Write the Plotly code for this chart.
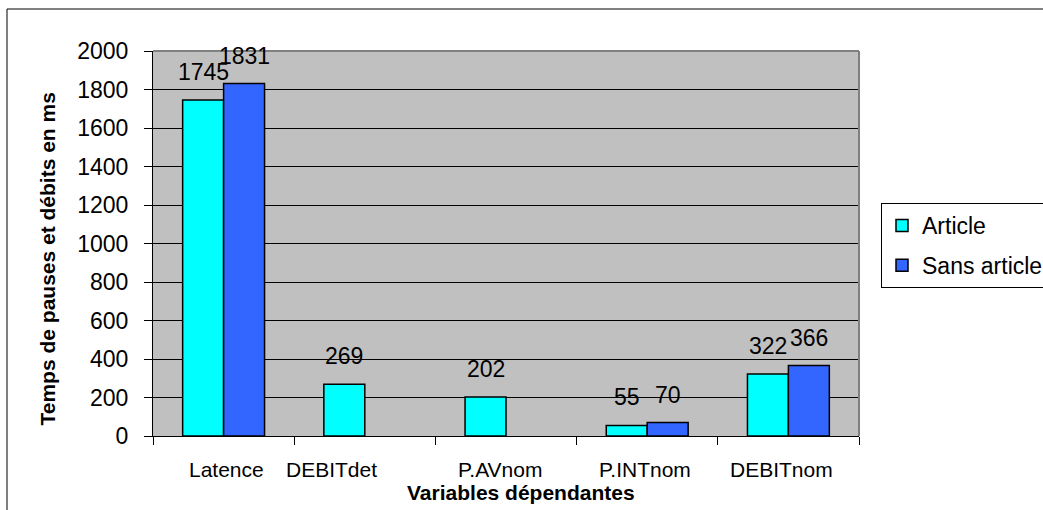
import plotly.graph_objects as go

categories = ["Latence", "DEBITdet", "P.AVnom", "P.INTnom", "DEBITnom"]
article = [1745, 269, 202, 55, 322]
sans_article = [1831, None, None, 70, 366]
series_names = ["Article", "Sans article"]
y_ticks = list(range(0, 2001, 200))

# style
colors = ["#00FFFF", "#3366FF"]
label_nudge_px = [3, -33, -6, -2, -7]   # Excel's uneven category-label placement
FONT = "Liberation Sans, Arial, sans-serif"

# plot-area geometry in pixels (for paper-coordinate conversions)
W, H = 1043, 510
L, R, T, B = 153, 859, 51, 436
pw, ph = R - L, B - T
def px(xp): return (xp - L) / pw
def py(yp): return (B - yp) / ph

fig = go.Figure()
for name, vals, col in zip(series_names, [article, sans_article], colors):
    fig.add_trace(go.Bar(
        x=categories, y=vals, name=name, legendgroup=name,
        marker=dict(color=col, line=dict(color="black", width=1.5)),
    ))

annotations = []
# data labels
offsets = [-20.5, 20.5]
for vals, xs in zip([article, sans_article], offsets):
    for c, v in zip(categories, vals):
        if v is None:
            continue
        annotations.append(dict(
            x=c, y=v, xref="x", yref="y", text=str(v), showarrow=False,
            xanchor="center", yanchor="bottom", xshift=xs, yshift=13,
            font=dict(family=FONT, size=23, color="black")))
# category labels
for c, nudge in zip(categories, label_nudge_px):
    annotations.append(dict(
        x=c, y=0, xref="x", yref="paper", text=c, showarrow=False,
        xanchor="center", yanchor="top", xshift=nudge, yshift=-20,
        font=dict(family=FONT, size=21, color="black")))
# axis titles
annotations.append(dict(
    x=px(521), y=0, xref="paper", yref="paper", text="<b>Variables dépendantes</b>",
    showarrow=False, xanchor="center", yanchor="top", yshift=-43,
    font=dict(family=FONT, size=21, color="black")))
annotations.append(dict(
    x=px(47), y=py(258.5), xref="paper", yref="paper",
    text="<b>Temps de pauses et débits en ms</b>", textangle=-90,
    showarrow=False, xanchor="center", yanchor="middle",
    font=dict(family=FONT, size=21, color="black")))

shapes = [
    # gray plot-area border (top and right)
    dict(type="line", xref="paper", yref="paper", x0=0, x1=1, y0=1, y1=1,
         line=dict(color="#808080", width=2), layer="above"),
    dict(type="line", xref="paper", yref="paper", x0=1, x1=1, y0=0, y1=1,
         line=dict(color="#808080", width=2), layer="above"),
    # outer chart border
    dict(type="rect", xref="paper", yref="paper",
         x0=px(7), x1=px(1060), y0=py(530), y1=py(9),
         line=dict(color="black", width=1), fillcolor="rgba(0,0,0,0)", layer="above"),
]

fig.update_layout(
    width=W, height=H,
    margin=dict(l=L, r=W - R, t=T, b=H - B, autoexpand=False),
    paper_bgcolor="white", plot_bgcolor="#C0C0C0",
    barmode="group", bargap=0.42, bargroupgap=0,
    font=dict(family=FONT, size=21, color="black"),
    showlegend=True,
    legend=dict(
        x=px(881), y=py(203), xanchor="left", yanchor="top",
        bgcolor="white", bordercolor="black", borderwidth=1,
        font=dict(family=FONT, size=23, color="black"),
        traceorder="grouped", tracegroupgap=7,
    ),
    annotations=annotations,
    shapes=shapes,
)
fig.update_xaxes(
    type="category", categoryorder="array", categoryarray=categories,
    showticklabels=False, ticks="outside", tickson="boundaries",
    ticklen=8, tickcolor="black", tickwidth=1,
    showline=True, linecolor="black", linewidth=1, showgrid=False,
)
fig.update_yaxes(
    range=[0, 2000], tickmode="array", tickvals=y_ticks,
    ticktext=[str(v) for v in y_ticks],
    ticks="outside", ticklen=8, tickcolor="black", tickwidth=1,
    ticklabelstandoff=11,
    tickfont=dict(family=FONT, size=23, color="black"),
    showline=True, linecolor="black", linewidth=1,
    showgrid=True, gridcolor="black", gridwidth=1, zeroline=False,
)

fig.write_html("out.html", config={"displayModeBar": False},
               post_script="document.body.style.margin='0';")
